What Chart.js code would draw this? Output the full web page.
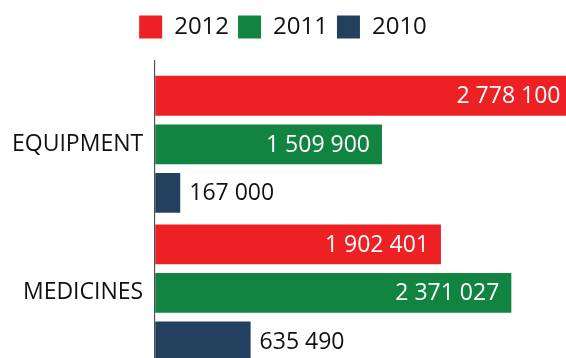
<!DOCTYPE html>
<html><head><meta charset="utf-8">
<script src="https://cdn.jsdelivr.net/npm/chart.js@4/dist/chart.umd.min.js"></script>
<style>
html,body{margin:0;padding:0;background:#fff;overflow:hidden;}
#wrap{position:relative;width:566px;height:393px;}
</style></head><body>
<div id="wrap"><canvas id="c"></canvas></div>
<script>
const categories = ["EQUIPMENT", "MEDICINES"];
const seriesNames = ["2012", "2011", "2010"];
const values2012 = [2778100, 1902401];
const values2011 = [1509900, 2371027];
const values2010 = [167000, 635490];
const colors = ["#ED2024", "#118442", "#24405F"];
const FONT = "'Open Sans', sans-serif";

function fmt(v){ return String(v).replace(/\B(?=(\d{3})+(?!\d))/g, " "); }

const valueLabels = {
  id: 'valueLabels',
  afterDatasetsDraw(chart){
    const ctx = chart.ctx;
    ctx.save();
    ctx.font = "23px " + FONT;
    ctx.textBaseline = 'middle';
    chart.data.datasets.forEach((ds, di) => {
      const meta = chart.getDatasetMeta(di);
      meta.data.forEach((bar, i) => {
        const t = fmt(ds.data[i]);
        if (di === 2) {
          ctx.fillStyle = '#111';
          ctx.textAlign = 'left';
          ctx.fillText(t, bar.x + 9, bar.y + 1);
        } else {
          ctx.fillStyle = '#fff';
          ctx.textAlign = 'right';
          ctx.fillText(t, bar.x - 12, bar.y + 1);
        }
      });
    });
    ctx.restore();
  }
};

const axisLine = {
  id: 'axisLine',
  afterDatasetsDraw(chart){
    const {ctx, chartArea} = chart;
    ctx.save();
    ctx.strokeStyle = '#333';
    ctx.lineWidth = 1;
    ctx.beginPath();
    ctx.moveTo(chartArea.left - 0.5, chartArea.top - 10);
    ctx.lineTo(chartArea.left - 0.5, chartArea.bottom);
    ctx.stroke();
    ctx.restore();
  }
};

const legendGap = {
  id: 'legendGap',
  beforeInit(chart){
    const orig = chart.legend.fit;
    chart.legend.fit = function(){ orig.bind(chart.legend)(); this.height += 21; };
  }
};

new Chart(document.getElementById('c'), {
  type: 'bar',
  data: {
    labels: categories,
    datasets: [
      {label: seriesNames[0], data: values2012, backgroundColor: colors[0]},
      {label: seriesNames[1], data: values2011, backgroundColor: colors[1]},
      {label: seriesNames[2], data: values2010, backgroundColor: colors[2]}
    ]
  },
  options: {
    indexAxis: 'y',
    responsive: true,
    maintainAspectRatio: false,
    animation: false,
    categoryPercentage: 0.98,
    barPercentage: 0.82,
    layout: {padding: {left: 0, right: 0, top: 6, bottom: 0}},
    plugins: {
      tooltip: {enabled: false},
      legend: {
        position: 'top',
        labels: {
          boxWidth: 23, boxHeight: 23,
          color: '#111',
          font: {family: FONT, size: 24},
          padding: 9
        }
      }
    },
    scales: {
      x: {display: false, min: 0, max: 2735000},
      y: {
        grid: {display: false, drawTicks: false},
        border: {display: false},
        ticks: {color: '#111', font: {family: FONT, size: 23}, padding: 12}
      }
    }
  },
  plugins: [valueLabels, axisLine, legendGap]
});
</script>
</body></html>
